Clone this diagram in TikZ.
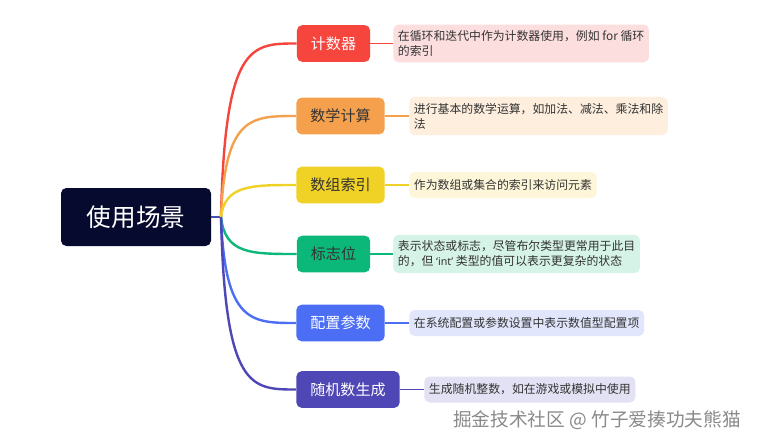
\documentclass[tikz,border=0pt]{standalone}
\usepackage{fontspec}
\usepackage{xcolor}
\usepackage{tikz}
\usetikzlibrary{positioning,calc}
\newfontfamily\cjk{Noto Sans CJK SC}
\newfontfamily\lat{Noto Sans}
\definecolor{rootc}{HTML}{060A2E}
\definecolor{hubc}{HTML}{4650B0}
\definecolor{cred}{HTML}{F5453D}
\definecolor{corg}{HTML}{F5A04D}
\definecolor{cyel}{HTML}{F0D125}
\definecolor{cgrn}{HTML}{0BB87A}
\definecolor{cblu}{HTML}{4C6EF5}
\definecolor{cpur}{HTML}{4F47B5}
\definecolor{lred}{HTML}{FDDEDF}
\definecolor{lorg}{HTML}{FDEEDD}
\definecolor{lyel}{HTML}{FDF6D8}
\definecolor{lgrn}{HTML}{D6F3E7}
\definecolor{lblu}{HTML}{E1E6FC}
\definecolor{lpur}{HTML}{E3E2F4}
\definecolor{txt}{HTML}{333333}
\definecolor{mark}{HTML}{8A8A8A}
\tikzset{
  root/.style={fill=rootc,rounded corners=4pt,text=white,minimum width=112.5pt,minimum height=43.5pt,font=\cjk\fontsize{18.5}{22}\selectfont},
  topic/.style={rounded corners=4pt,inner xsep=10.5pt,inner ysep=0pt,minimum height=27.5pt,font=\cjk\fontsize{11.3}{14}\selectfont},
  leaf/.style={anchor=west,rounded corners=4pt,inner xsep=3.5pt,inner ysep=4.5pt,minimum height=19.5pt,align=left,text=txt,font=\cjk\fontsize{8.9}{11.25}\selectfont},
  link/.style={line width=1.8pt},
  twig/.style={line width=1.2pt},
}
\begin{document}
\begin{tikzpicture}[x=0.75pt,y=-0.75pt]
\useasboundingbox (0,0) rectangle (759,447);
\fill[white] (0,0) rectangle (759,447);
\node[root] (use) at (136,217) {使用场景};
\coordinate (hub) at (221,217);
\node[topic,fill=cred,text=white] (cnt) at (333.5,43.5) {计数器};
\node[topic,fill=corg,text=txt] (math) at (340.5,116) {数学计算};
\node[topic,fill=cyel,text=txt] (idx) at (340.5,185) {数组索引};
\node[topic,fill=cgrn,text=txt] (flag) at (333.5,254) {标志位};
\node[topic,fill=cblu,text=white] (conf) at (340.5,323) {配置参数};
\node[topic,fill=cpur,text=white] (rand) at (348,389.5) {随机数生成};
\node[leaf,fill=lred] (cntl) at (393,43.5) {在循环和迭代中作为计数器使用，例如 for 循环\\的索引};
\node[leaf,fill=lorg] (mathl) at (409,116) {进行基本的数学运算，如加法、减法、乘法和除\\法};
\node[leaf,fill=lyel] (idxl) at (409,185) {作为数组或集合的索引来访问元素};
\node[leaf,fill=lgrn] (flagl) at (393,254) {表示状态或标志，尽管布尔类型更常用于此目\\的，但 {\lat\fontsize{8}{11.25}\selectfont ‘int’} 类型的值可以表示更复杂的状态};
\node[leaf,fill=lblu] (confl) at (409,323) {在系统配置或参数设置中表示数值型配置项};
\node[leaf,fill=lpur] (randl) at (424,389.5) {生成随机整数，如在游戏或模拟中使用};
\node[text=mark,font=\cjk\fontsize{14}{16}\selectfont] (wm) at (597,420) {掘金技术社区 @ 竹子爱揍功夫熊猫};
\draw[link,hubc] (use.east) -- (hub);
\foreach \n/\c in {cnt/cred,math/corg,idx/cyel,flag/cgrn,conf/cblu,rand/cpur}{
  \draw[link,\c] (hub) .. controls ($(hub |- \n.west)+(4,0)$) and ($(hub |- \n.west)+(30,0)$) .. (\n.west);
  \draw[twig,\c] (\n.east) -- (\n l.west);
}
\end{tikzpicture}
\end{document}
